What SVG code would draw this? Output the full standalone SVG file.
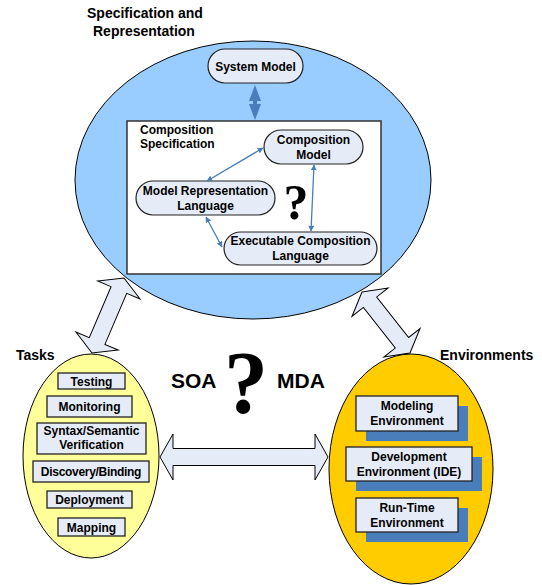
<svg xmlns="http://www.w3.org/2000/svg" width="542" height="585" viewBox="0 0 542 585">
<defs>
<style>
text{font-family:"Liberation Sans",Arial,sans-serif;font-weight:bold;fill:#000}
.t12{font-size:12px;text-anchor:middle}
.lbl{font-size:14px}
.box{fill:#e6ecf7;stroke:#222;stroke-width:1.3}
.rbox{fill:#e6ecf7;stroke:#222;stroke-width:1.2}
.shadow{fill:#4a7ebb}
.thin{stroke:#4a7ebb;stroke-width:1.3;fill:none;marker-start:url(#ah);marker-end:url(#ah)}
.big{fill:#e6ecf7;stroke:#000;stroke-width:1}
.q{font-family:"Liberation Serif","Times New Roman",serif;font-weight:bold;text-anchor:middle}
</style>
<marker id="ah" viewBox="0 0 10 10" refX="9" refY="5" markerWidth="6" markerHeight="6" markerUnits="userSpaceOnUse" orient="auto-start-reverse">
<path d="M0,0 L10,5 L0,10 z" fill="#4a7ebb"/>
</marker>
</defs>

<g id="spec-ellipse">
<ellipse cx="253" cy="180" rx="178" ry="139" fill="#99ccff" stroke="#000" stroke-width="1"/>
</g>
<g id="spec-label">
<text class="lbl" x="87" y="18">Specification and</text>
<text class="lbl" x="93" y="36">Representation</text>
</g>
<g id="system-model">
<rect class="rbox" x="208" y="49" width="95" height="34" rx="17"/>
<text class="t12" x="255.5" y="70.5">System Model</text>
</g>
<g id="composition-spec">
<rect x="127" y="121" width="254" height="153" fill="#fff" stroke="#333" stroke-width="1.5"/>
<text x="140" y="134" style="font-size:12px">Composition</text>
<text x="140" y="148" style="font-size:12px">Specification</text>
<text class="q" x="296" y="219" style="font-size:50px">?</text>
</g>
<g id="composition-model">
<rect class="rbox" x="264" y="130" width="99" height="34" rx="17"/>
<text class="t12" x="313.5" y="143.5">Composition</text>
<text class="t12" x="313.5" y="158.5">Model</text>
</g>
<g id="model-rep-lang">
<rect class="rbox" x="136" y="181" width="139" height="34" rx="17"/>
<text class="t12" x="205.5" y="194.5">Model Representation</text>
<text class="t12" x="205.5" y="209.5">Language</text>
</g>
<g id="exec-comp-lang">
<rect class="rbox" x="224" y="232" width="153" height="33" rx="16.5"/>
<text class="t12" x="300.5" y="245">Executable Composition</text>
<text class="t12" x="300.5" y="260">Language</text>
</g>

<g id="tasks-ellipse">
<ellipse cx="91" cy="456" rx="68" ry="102" fill="#ffff99" stroke="#000" stroke-width="1"/>
<text class="lbl" x="16" y="360">Tasks</text>
</g>
<g id="task-testing"><rect class="box" x="58" y="373" width="67" height="16"/><text class="t12" x="91.5" y="385.5">Testing</text></g>
<g id="task-monitoring"><rect class="box" x="47" y="396" width="85" height="21"/><text class="t12" x="89.5" y="410.5">Monitoring</text></g>
<g id="task-verification"><rect class="box" x="37" y="423" width="109" height="31"/><text class="t12" x="91.5" y="435">Syntax/Semantic</text><text class="t12" x="91.5" y="448.5">Verification</text></g>
<g id="task-discovery"><rect class="box" x="33" y="461" width="116" height="21"/><text class="t12" x="91" y="475.5" style="letter-spacing:-0.3px">Discovery/Binding</text></g>
<g id="task-deployment"><rect class="box" x="47" y="491" width="85" height="17"/><text class="t12" x="89.5" y="504">Deployment</text></g>
<g id="task-mapping"><rect class="box" x="58" y="518" width="67" height="18"/><text class="t12" x="91.5" y="531.5">Mapping</text></g>

<g id="env-ellipse">
<ellipse cx="411" cy="469" rx="82" ry="115" fill="#ffcc00" stroke="#000" stroke-width="1"/>
<text class="lbl" x="440" y="360">Environments</text>
</g>
<g id="env-modeling">
<rect class="shadow" x="366" y="406" width="102" height="35"/>
<rect class="box" x="356" y="396" width="102" height="35"/>
<text class="t12" x="407" y="409.5">Modeling</text>
<text class="t12" x="407" y="424.5">Environment</text>
</g>
<g id="env-development">
<rect class="shadow" x="356" y="457" width="126" height="34"/>
<rect class="box" x="346" y="447" width="126" height="34"/>
<text class="t12" x="409" y="460.5">Development</text>
<text class="t12" x="409" y="475.5">Environment (IDE)</text>
</g>
<g id="env-runtime">
<rect class="shadow" x="366" y="508" width="102" height="34"/>
<rect class="box" x="356" y="498" width="102" height="34"/>
<text class="t12" x="407" y="511.5">Run-Time</text>
<text class="t12" x="407" y="526.5">Environment</text>
</g>

<g id="center-label">
<text x="171" y="388" style="font-size:21px">SOA</text>
<text x="277" y="388" style="font-size:21px">MDA</text>
<text class="q" x="246" y="412" style="font-size:88px">?</text>
</g>

<g id="connectors">
<polygon points="255,85 261,101 257,101 257,104 261,104 255,120 249,104 253,104 253,101 249,101" fill="#4a7ebb"/>
<line class="thin" x1="207" y1="181" x2="263" y2="148"/>
<line class="thin" x1="206" y1="217" x2="222" y2="247"/>
<line class="thin" x1="314" y1="165" x2="311" y2="231"/>
<polygon class="big" transform="translate(160,457)" points="0,0 13,-23 13,-8.5 155,-8.5 155,-23 168,0 155,23 155,8.5 13,8.5 13,23"/>
<polygon class="big" transform="translate(92,353) rotate(-66.9)" points="0,0 13,-23 13,-8.5 68.5,-8.5 68.5,-23 81.5,0 68.5,23 68.5,8.5 13,8.5 13,23"/>
<polygon class="big" transform="translate(362,292) rotate(51.8)" points="0,0 13,-23 13,-8.5 64.6,-8.5 64.6,-23 77.6,0 64.6,23 64.6,8.5 13,8.5 13,23"/>
</g>
</svg>
